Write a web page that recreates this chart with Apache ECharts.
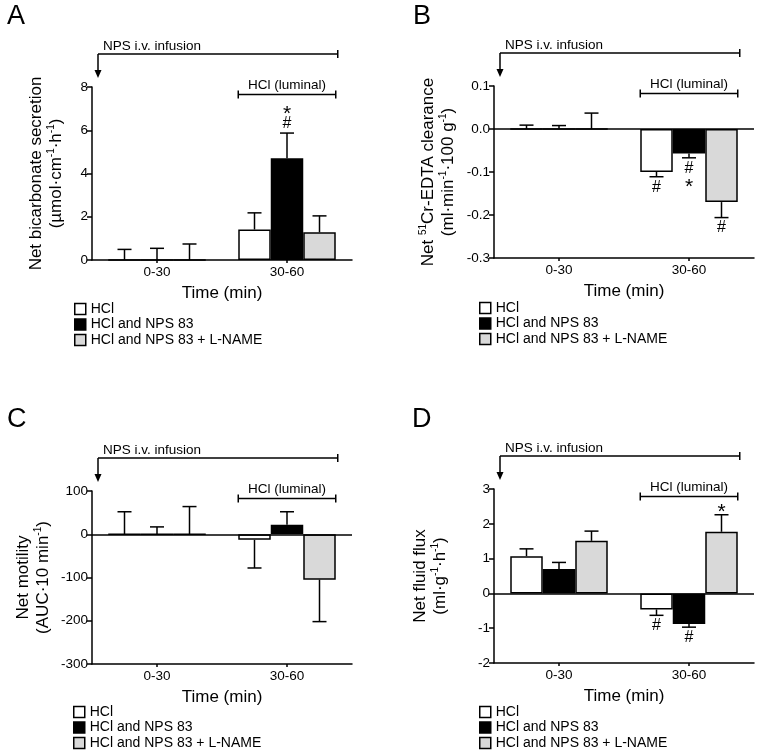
<!DOCTYPE html>
<html><head><meta charset="utf-8">
<script src="https://cdn.jsdelivr.net/npm/echarts@6/dist/echarts.min.js"></script>
<style>html,body{margin:0;padding:0;background:#fff}#c{width:760px;height:756px}</style>
</head><body><div id="c"></div>
<script>
const FONT = "'Liberation Sans', Arial, Helvetica, sans-serif";

// ---- shared ----
const categories = ['0-30', '30-60'];
const groupNames = ['HCl', 'HCl and NPS 83', 'HCl and NPS 83 + L-NAME'];
const barColors = ['#ffffff', '#000000', '#d9d9d9'];

// ---- Panel A: net bicarbonate secretion (per group: [0-30, 30-60]) ----
const bicarbMean = [[0, 1.41], [0, 4.71], [0, 1.28]];
const bicarbSem  = [[0.49, 0.77], [0.54, 1.16], [0.74, 0.76]];
const bicarbMarks = [['', ''], ['', '#*'], ['', '']];
const bicarbTicks = [0, 8, 2];

// ---- Panel B: net 51Cr-EDTA clearance ----
const edtaMean = [[0, -0.100], [0, -0.057], [0, -0.170]];
const edtaSem  = [[0.009, 0.011], [0.008, 0.010], [0.037, 0.036]];
const edtaMarks = [['', '#'], ['', '#*'], ['', '#']];
const edtaTicks = [-0.3, 0.1, 0.1];

// ---- Panel C: net motility ----
const motilityMean = [[0, -13], [0, 22], [0, -105]];
const motilitySem  = [[52, 65], [17, 30], [64, 97]];
const motilityMarks = [['', ''], ['', ''], ['', '']];
const motilityTicks = [-300, 100, 100];

// ---- Panel D: net fluid flux ----
const fluidMean = [[1.07, -0.46], [0.70, -0.88], [1.51, 1.77]];
const fluidSem  = [[0.21, 0.17], [0.19, 0.09], [0.28, 0.49]];
const fluidMarks = [['', '#'], ['', '#'], ['', '*']];
const fluidTicks = [-2, 3, 1];

const panels = [
  { letter: 'A', lx: 7, ly: 17, mean: bicarbMean, sem: bicarbSem, marks: bicarbMarks, ticks: bicarbTicks,
    grid: { left: 92, top: 87, width: 260, height: 173 }, zero: false, nameGap: 26,
    yName: '{n|Net bicarbonate secretion}\n{n|(µmol·cm}{s|-1}{n|·h}{s|-1}{n|)}',
    fmt: v => String(Math.round(v)), legend: { left: 74, top: 302 } },
  { letter: 'B', lx: 413, ly: 17, mean: edtaMean, sem: edtaSem, marks: edtaMarks, ticks: edtaTicks,
    grid: { left: 494, top: 86, width: 260, height: 172 }, zero: true, nameGap: 36,
    yName: '{n|Net }{s|51}{n|Cr-EDTA clearance}\n{n|(ml·min}{s|-1}{n|·100 g}{s|-1}{n|)}',
    fmt: v => Math.abs(v) < 1e-9 ? '0.0' : v.toFixed(1), legend: { left: 479, top: 301 } },
  { letter: 'C', lx: 7, ly: 420, mean: motilityMean, sem: motilitySem, marks: motilityMarks, ticks: motilityTicks,
    grid: { left: 92, top: 491, width: 260, height: 173 }, zero: true, nameGap: 39,
    yName: '{n|Net motility}\n{n|(AUC·10 min}{s|-1}{n|)}',
    fmt: v => String(Math.round(v)), legend: { left: 73, top: 705 } },
  { letter: 'D', lx: 412, ly: 420, mean: fluidMean, sem: fluidSem, marks: fluidMarks, ticks: fluidTicks,
    grid: { left: 494, top: 489, width: 260, height: 174 }, zero: true, nameGap: 44,
    yName: '{n|Net fluid flux}\n{n|(ml·g}{s|-1}{n|·h}{s|-1}{n|)}',
    fmt: v => String(Math.round(v)), legend: { left: 479, top: 705 } }
];

const LW = 1.5;
const chart = echarts.init(document.getElementById('c'), null, { renderer: 'canvas' });

// glyph metrics for the significance marks: [fontSize, half glyph height, centre offset]
const MARK_STYLE = { '#': [16, 6, 0.5], '*': [21, 4, 5] };

function errRender(panel, k) {
  return function (params, api) {
    const ci = api.value(0), v = api.value(1), e = api.value(2);
    const mark = panel.marks[k][ci] || '';
    const band = Math.abs(api.coord([1, 0])[0] - api.coord([0, 0])[0]);
    const bw = band * 0.75 / 3;
    const x = api.coord([ci, 0])[0] + (k - 1) * bw;
    const neg = v < 0;
    const dir = neg ? 1 : -1;
    const yv = api.coord([ci, v])[1];
    const ye = api.coord([ci, neg ? v - e : v + e])[1];
    const children = [
      { type: 'line', shape: { x1: x, y1: yv, x2: x, y2: ye }, style: { stroke: '#000', lineWidth: LW } },
      { type: 'line', shape: { x1: x - 7, y1: ye, x2: x + 7, y2: ye }, style: { stroke: '#000', lineWidth: LW } }
    ];
    let off = 4;
    for (const ch of mark) {
      const ms = MARK_STYLE[ch];
      const half = ms[1];
      const c = ye + dir * (off + half);
      off += 2 * half + 4;
      children.push({ type: 'text', x: x, y: c + ms[2],
        style: { text: ch, fontSize: ms[0], fontFamily: FONT, fill: '#000', align: 'center', verticalAlign: 'middle' } });
    }
    return { type: 'group', children };
  };
}

const grid = [], xAxis = [], yAxis = [], series = [], legend = [];
panels.forEach((p, g) => {
  grid.push(Object.assign({ containLabel: false, outerBoundsMode: 'none' }, p.grid));
  xAxis.push({
    type: 'category', gridIndex: g, data: categories,
    axisLine: { show: true, onZero: false, lineStyle: { color: '#000', width: LW } },
    axisTick: { show: true, alignWithLabel: true, length: 3, lineStyle: { color: '#000', width: LW } },
    axisLabel: { fontSize: 13.5, fontFamily: FONT, color: '#000', margin: 5 },
    splitLine: { show: false },
    name: 'Time (min)', nameLocation: 'middle', nameGap: 25, nameMoveOverlap: false,
    nameTextStyle: { fontSize: 17, fontFamily: FONT, color: '#000' }
  });
  yAxis.push({
    type: 'value', gridIndex: g, min: p.ticks[0], max: p.ticks[1], interval: p.ticks[2],
    axisLine: { show: true, lineStyle: { color: '#000', width: LW } },
    axisTick: { show: true, length: 5, lineStyle: { color: '#000', width: LW } },
    axisLabel: { fontSize: 13.5, fontFamily: FONT, color: '#000', margin: 4, formatter: p.fmt },
    splitLine: { show: false },
    name: p.yName, nameLocation: 'middle', nameGap: p.nameGap, nameRotate: 90, nameMoveOverlap: false,
    nameTextStyle: {
      fontSize: 17, fontFamily: FONT, color: '#000', lineHeight: 20,
      rich: {
        n: { fontSize: 17, fontFamily: FONT, color: '#000', lineHeight: 20 },
        s: { fontSize: 10, fontFamily: FONT, color: '#000', lineHeight: 12, verticalAlign: 'top' }
      }
    }
  });
  groupNames.forEach((nm, k) => {
    const s = {
      type: 'bar', name: nm, xAxisIndex: g, yAxisIndex: g,
      data: p.mean[k], barGap: '0%', barCategoryGap: '25%',
      itemStyle: { color: barColors[k], borderColor: '#000', borderWidth: LW },
      emphasis: { disabled: true }, silent: true, z: 2
    };
    if (k === 0 && p.zero) {
      s.markLine = {
        silent: true, symbol: ['none', 'none'], animation: false,
        label: { show: false },
        lineStyle: { color: '#000', width: LW, type: 'solid' },
        data: [{ yAxis: 0 }]
      };
    }
    series.push(s);
    series.push({
      type: 'custom', name: 'err' + g + '_' + k, xAxisIndex: g, yAxisIndex: g,
      data: categories.map((c, ci) => [ci, p.mean[k][ci], p.sem[k][ci]]),
      encode: { x: 0, y: 1 }, renderItem: errRender(p, k), silent: true, z: 3, clip: false
    });
  });
  legend.push({
    data: groupNames, orient: 'vertical', left: p.legend.left, top: p.legend.top,
    itemWidth: 11, itemHeight: 11, itemGap: 1.5, icon: 'rect', selectedMode: false, padding: 0,
    textStyle: { fontSize: 14, fontFamily: FONT, color: '#000' },
    itemStyle: { borderColor: '#000', borderWidth: LW }
  });
});

chart.setOption({
  backgroundColor: '#fff', animation: false,
  grid, xAxis, yAxis, series, legend
});

// annotation brackets positioned from the axes
function ln(x1, y1, x2, y2) {
  return { type: 'line', shape: { x1, y1, x2, y2 }, style: { stroke: '#000', lineWidth: LW }, silent: true };
}
function tx(t, x, y, align, size) {
  return { type: 'text', x, y, silent: true,
    style: { text: t, fontSize: size || 13.5, fontFamily: FONT, fill: '#000', align, verticalAlign: 'middle' } };
}
const gfx = [];
panels.forEach((p, g) => {
  const G = p.grid;
  const c0 = chart.convertToPixel({ xAxisIndex: g }, categories[0]);
  const c1 = chart.convertToPixel({ xAxisIndex: g }, categories[1]);
  const bw = (c1 - c0) * 0.75 / 3;
  const l = c1 - 1.5 * bw, r = c1 + 1.5 * bw;
  const hy = G.top + 7.5;
  const ny = G.top - 33;
  const ax = G.left + 6;
  gfx.push(ln(l, hy, r, hy), ln(l, hy - 4, l, hy + 4), ln(r, hy - 4, r, hy + 4));
  gfx.push(tx('HCl (luminal)', (l + r) / 2, hy - 9.5, 'center'));
  gfx.push(ln(ax, ny, r + 2, ny), ln(r + 2, ny - 4, r + 2, ny + 4), ln(ax, ny, ax, G.top - 15));
  gfx.push({ type: 'polygon', silent: true,
    shape: { points: [[ax - 3.5, G.top - 17], [ax + 3.5, G.top - 17], [ax, G.top - 9]] },
    style: { fill: '#000' } });
  gfx.push(tx('NPS i.v. infusion', ax + 5, ny - 8, 'left'));
  gfx.push(tx(p.letter, p.lx, p.ly, 'left', 27));
});
chart.setOption({ graphic: gfx });
</script>
</body></html>
